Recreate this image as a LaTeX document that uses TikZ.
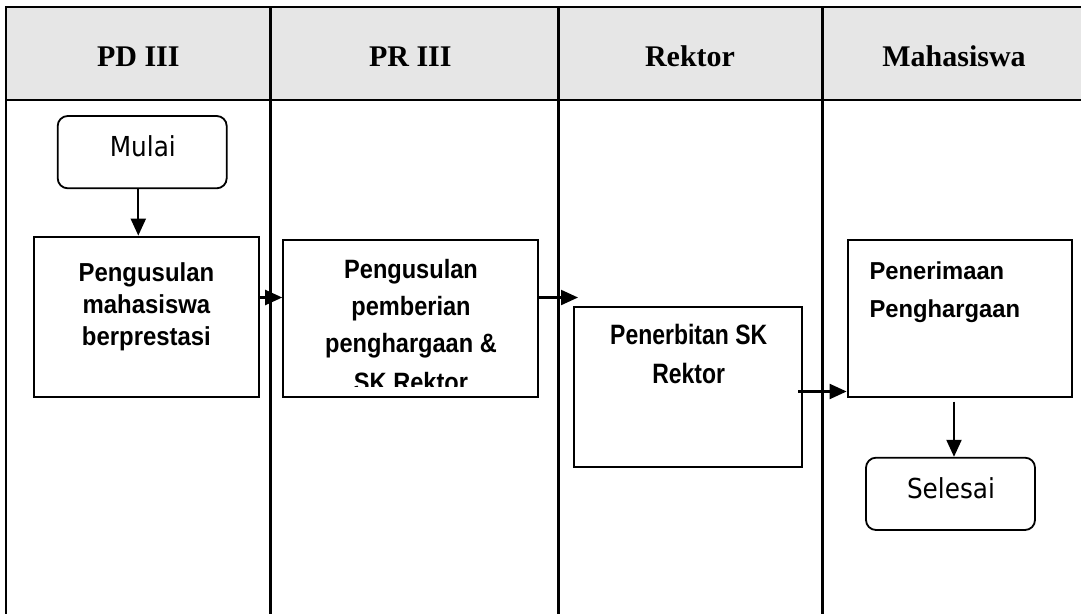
\documentclass[tikz,border=0pt]{standalone}
\usepackage{fontspec}
\setmainfont{Liberation Serif}
\newfontfamily\hdfont{Liberation Serif}
\newfontfamily\bxAfont{Liberation Sans}[FakeStretch=0.92]
\newfontfamily\bxBfont{Liberation Sans}[FakeStretch=0.89]
\newfontfamily\bxCfont{Liberation Sans}[FakeStretch=0.82]
\newfontfamily\bxDfont{Liberation Sans}[FakeStretch=0.97]
\newfontfamily\termfont{DejaVu Sans}[FakeStretch=0.9]
\usetikzlibrary{arrows.meta}
\definecolor{hdrgray}{HTML}{E6E6E6}
\tikzset{
  lane/.style={line width=2.2pt, line cap=rect},
  procbox/.style={draw, fill=white, line width=2.2pt, inner sep=0pt},
  termbox/.style={draw, fill=white, line width=1.8pt, rounded corners=10pt, inner sep=0pt,
    minimum width=169pt, minimum height=72.3pt},
  flow/.style={line width=2.2pt, -{Triangle[length=17pt,width=15pt]}},
  hdtext/.style={anchor=base, inner sep=0pt, font=\hdfont\bfseries\fontsize{30}{36}\selectfont},
  txA/.style={anchor=base, inner sep=0pt, font=\bxAfont\bfseries\fontsize{26}{30}\selectfont},
  txB/.style={anchor=base, inner sep=0pt, font=\bxBfont\bfseries\fontsize{26.5}{30}\selectfont},
  txC/.style={anchor=base, inner sep=0pt, font=\bxCfont\bfseries\fontsize{28}{32}\selectfont},
  txD/.style={anchor=base west, inner sep=0pt, font=\bxDfont\bfseries\fontsize{24.5}{30}\selectfont},
  txT/.style={anchor=base, inner sep=0pt, font=\termfont\fontsize{27.5}{32}\selectfont},
}
\begin{document}
\begin{tikzpicture}[x=1pt,y=-1pt]
\useasboundingbox (0,0) rectangle (1081,613);
% header
\fill[hdrgray] (6.2,7.3) rectangle (1081,100);
\draw[lane] (6.2,7.3) -- (1081,7.3);
\draw[lane] (6.2,100) -- (1081,100);
\draw[lane] (6.2,7.3) -- (6.2,613);
\draw[lane] (270.5,7.3) -- (270.5,613);
\draw[lane] (558.5,7.3) -- (558.5,613);
\draw[lane] (822.5,7.3) -- (822.5,613);
\node[hdtext] (h1) at (138.3,66.7) {PD III};
\node[hdtext] (h2) at (410.3,66.7) {PR III};
\node[hdtext] (h3) at (690,66.7) {Rektor};
\node[hdtext] (h4) at (954,66.7) {Mahasiswa};
% terminals
\node[termbox] (mulai) at (142.2,152.15) {};
\node[txT] (mulaitx) at (142.8,156.7) {Mulai};
\node[termbox] (selesai) at (950.5,493.85) {};
\node[txT] (selesaitx) at (951,498.3) {Selesai};
% process boxes
\node[procbox, minimum width=225.3pt, minimum height=160.3pt] (b1) at (146.35,316.85) {};
\node[procbox, minimum width=255pt, minimum height=156.7pt] (b2) at (410.8,318.35) {};
\node[procbox, minimum width=228.3pt, minimum height=160.6pt] (b3) at (688.15,387) {};
\node[procbox, minimum width=224pt, minimum height=156.7pt] (b4) at (959.7,318.35) {};
% box texts
\node[txA] (b1l1) at (146.4,281) {Pengusulan};
\node[txA] (b1l2) at (146.4,313) {mahasiswa};
\node[txA] (b1l3) at (146.4,345) {berprestasi};
\node[txB] (b2l1) at (411,278.3) {Pengusulan};
\node[txB] (b2l2) at (411,315.7) {pemberian};
\node[txB] (b2l3) at (411,352.3) {penghargaan \&};
\coordinate (b2clip) at (538.3,386.7);
\begin{scope}
  \clip (b2.north west) rectangle (b2clip);
  \node[txB] (b2l4) at (411,391) {SK Rektor};
\end{scope}
\node[txC] (b3l1) at (688.7,344) {Penerbitan SK};
\node[txC] (b3l2) at (688.7,383.3) {Rektor};
\node[txD] (b4l1) at (869.3,279.3) {Penerimaan};
\node[txD] (b4l2) at (869.3,317.3) {Penghargaan};
% connectors
\coordinate (colA) at (138.3,0);
\coordinate (rowA) at (0,297.5);
\coordinate (a2e) at (578,297.5);
\coordinate (a3s) at (798,391.5);
\coordinate (a4s) at (954,401.7);
\draw[flow] (mulai.south -| colA) -- (b1.north -| colA);
\draw[flow] (b1.east |- rowA) -- (b2.west |- rowA);
\draw[flow] (b2.east |- a2e) -- (a2e);
\draw[flow] (a3s) -- (b4.west |- a3s);
\draw[flow] (a4s) -- (selesai.north -| a4s);
\end{tikzpicture}
\end{document}
